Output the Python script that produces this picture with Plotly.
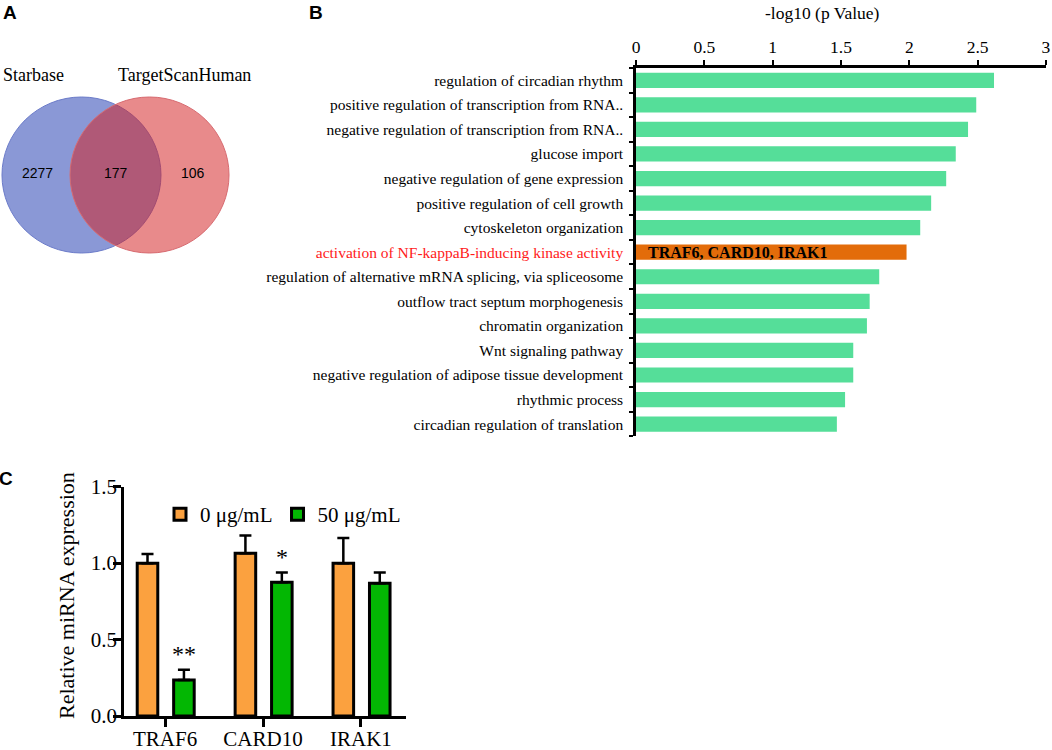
import plotly.graph_objects as go

# ---------------- data ----------------
venn_sets = ["Starbase", "TargetScanHuman"]
venn_counts = [2277, 177, 106]  # only Starbase, both, only TargetScanHuman

go_terms = [
    "regulation of circadian rhythm",
    "positive regulation of transcription from RNA..",
    "negative regulation of transcription from RNA..",
    "glucose import",
    "negative regulation of gene expression",
    "positive regulation of cell growth",
    "cytoskeleton organization",
    "activation of NF-kappaB-inducing kinase activity",
    "regulation of alternative mRNA splicing, via spliceosome",
    "outflow tract septum morphogenesis",
    "chromatin organization",
    "Wnt signaling pathway",
    "negative regulation of adipose tissue development",
    "rhythmic process",
    "circadian regulation of translation",
]
go_neglog10p = [2.62, 2.49, 2.43, 2.34, 2.27, 2.16, 2.08, 1.98, 1.78, 1.71, 1.69, 1.59, 1.59, 1.53, 1.47]
highlight_term = "activation of NF-kappaB-inducing kinase activity"
highlight_genes = "TRAF6, CARD10, IRAK1"
x_ticks_B = [0, 0.5, 1, 1.5, 2, 2.5, 3]
x_ticklabels_B = ["0", "0.5", "1", "1.5", "2", "2.5", "3"]

genes = ["TRAF6", "CARD10", "IRAK1"]
dose_names = ["0 μg/mL", "50 μg/mL"]
expr_0 = [1.00, 1.065, 1.00]
err_0 = [0.06, 0.115, 0.165]
expr_50 = [0.235, 0.875, 0.868]
err_50 = [0.068, 0.063, 0.07]
sig_50 = ["**", "*", ""]

# ---------------- layout helpers ----------------
W, H = 1052, 750
def px(x):
    return x / W
def py(y):
    return 1 - y / H

SERIF = "Liberation Serif, Times New Roman, serif"
SANS = "Liberation Sans, Arial, sans-serif"

GREEN_B = "#55de99"
ORANGE_B = "#e36c0a"
ORANGE_C = "#fba13f"
GREEN_C = "#03b703"

fig = go.Figure()

# ---------------- panel B: GO bar chart ----------------
bar_colors = [ORANGE_B if t == highlight_term else GREEN_B for t in go_terms]
fig.add_trace(go.Bar(
    x=go_neglog10p, y=go_terms, orientation="h",
    marker=dict(color=bar_colors, line=dict(width=0)),
    width=0.62, xaxis="x2", yaxis="y2", showlegend=False,
))
tick_text_B = [
    f'<span style="color:#ff1a1a">{t}</span>' if t == highlight_term else t
    for t in go_terms
]

# ---------------- panel C: grouped bars ----------------
fig.add_trace(go.Bar(
    x=genes, y=expr_0, name=dose_names[0],
    marker=dict(color=ORANGE_C, line=dict(color="black", width=3)),
    offset=-0.285, width=0.21,
    error_y=dict(type="data", array=err_0, arrayminus=[0] * len(err_0),
                 symmetric=False, color="black", thickness=2.5, width=6),
    xaxis="x", yaxis="y",
))
fig.add_trace(go.Bar(
    x=genes, y=expr_50, name=dose_names[1],
    marker=dict(color=GREEN_C, line=dict(color="black", width=3)),
    offset=0.087, width=0.21,
    error_y=dict(type="data", array=err_50, arrayminus=[0] * len(err_50),
                 symmetric=False, color="black", thickness=2.5, width=6),
    xaxis="x", yaxis="y",
))

annotations = []
for i, (v, e, s) in enumerate(zip(expr_50, err_50, sig_50)):
    if s:
        annotations.append(dict(
            x=i + 0.192, y=v + e + 0.10, xref="x", yref="y", text=s,
            showarrow=False, font=dict(family=SERIF, size=24, color="black"),
            xanchor="center", yanchor="middle",
        ))

# highlighted gene list inside the orange bar
annotations.append(dict(
    x=0, y=highlight_term, xref="x2", yref="y2", text=f"<b>{highlight_genes}</b>",
    showarrow=False, xanchor="left", yanchor="middle", xshift=10,
    font=dict(family=SERIF, size=16, color="black"),
))

def paper_text(x, y, text, font, angle=0):
    annotations.append(dict(x=px(x), y=py(y), xref="paper", yref="paper",
                            text=text, showarrow=False, textangle=angle,
                            xanchor="center", yanchor="middle", font=font))

# axis titles
paper_text(822, 13, "-log10 (p Value)", dict(family=SERIF, size=17.5, color="black"))
paper_text(66, 596, "Relative miRNA expression", dict(family=SERIF, size=22, color="black"), -90)

# ---------------- panel A: Venn ----------------
venn_centers = [-0.428, 0.428]
venn_fill = ["rgba(30,57,176,0.52)", "rgba(211,30,32,0.52)"]
venn_line = ["#6b7bc9", "#d76a70"]
shapes = []
for c, f, l in zip(venn_centers, venn_fill, venn_line):
    shapes.append(dict(type="circle", xref="x3", yref="y3",
                       x0=c - 1, x1=c + 1, y0=-1, y1=1,
                       fillcolor=f, line=dict(color=l, width=1), layer="above"))
venn_label_x = [-0.985, 0.0, 0.98]
for xv, n in zip(venn_label_x, venn_counts):
    annotations.append(dict(x=xv, y=0.02, xref="x3", yref="y3", text=str(n),
                            xanchor="center", yanchor="middle",
                            showarrow=False, font=dict(family=SANS, size=14, color="black")))
paper_text(33, 75, venn_sets[0], dict(family=SERIF, size=18, color="black"))
paper_text(184, 75, venn_sets[1], dict(family=SERIF, size=18, color="black"))

# panel letters
for letter, (lx, ly) in zip(["A", "B", "C"], [(10, 13), (316, 13), (6, 478)]):
    paper_text(lx, ly, f"<b>{letter}</b>", dict(family=SANS, size=19, color="black"))

fig.update_layout(
    width=W, height=H, margin=dict(l=0, r=0, t=0, b=0, autoexpand=False),
    paper_bgcolor="white", plot_bgcolor="white",
    barmode="overlay",
    font=dict(family=SERIF, color="black"),
    showlegend=True,
    legend=dict(orientation="h", x=px(160), y=py(494), xanchor="left", yanchor="top",
                font=dict(family=SERIF, size=21, color="black"),
                bgcolor="rgba(0,0,0,0)", itemwidth=30, traceorder="normal"),
    # panel C
    xaxis=dict(domain=[px(124), px(406)], type="category", range=[-0.42, 2.46],
               showline=True, linecolor="black", linewidth=2.5,
               ticks="outside", ticklen=8, tickwidth=2.5, tickcolor="black",
               tickfont=dict(family=SERIF, size=21), showgrid=False, zeroline=False,
               ticklabelstandoff=-6, automargin=False, anchor="y"),
    yaxis=dict(domain=[py(716), py(486.7)], range=[0, 1.5], dtick=0.5, tickformat=".1f",
               showline=True, linecolor="black", linewidth=2.5,
               ticks="outside", ticklen=8, tickwidth=2.5, tickcolor="black",
               tickfont=dict(family=SERIF, size=21), showgrid=False, zeroline=False,
               ticklabelstandoff=-8, automargin=False, anchor="x"),
    # panel B
    xaxis2=dict(domain=[px(636), px(1046)], range=[0, 3.0005], side="top",
                tickvals=x_ticks_B, ticktext=x_ticklabels_B,
                showline=True, linecolor="black", linewidth=2.5,
                ticks="outside", ticklen=5, tickwidth=2, tickcolor="black",
                tickfont=dict(family=SERIF, size=17.5), showgrid=False, zeroline=False,
                automargin=False, anchor="y2"),
    yaxis2=dict(domain=[py(436.4), py(68)], type="category",
                categoryorder="array", categoryarray=go_terms,
                range=[len(go_terms) - 0.5, -0.5],
                tickvals=go_terms, ticktext=tick_text_B, tickson="boundaries",
                showline=True, linecolor="black", linewidth=2.5,
                ticks="outside", ticklen=4, tickwidth=2, tickcolor="black",
                tickfont=dict(family=SERIF, size=15.5), showgrid=False, zeroline=False,
                ticklabelstandoff=7, automargin=False, anchor="x2"),
    # panel A (hidden axes for the Venn diagram)
    xaxis3=dict(domain=[0, px(231)], range=[-1.453, 1.453], visible=False, anchor="y3"),
    yaxis3=dict(domain=[py(261), py(89)], range=[-1.1026, 1.1026], visible=False, anchor="x3"),
    shapes=shapes,
    annotations=annotations,
)

fig.write_html("out.html", config={"displayModeBar": False},
               post_script="document.body.style.margin='0px';")
